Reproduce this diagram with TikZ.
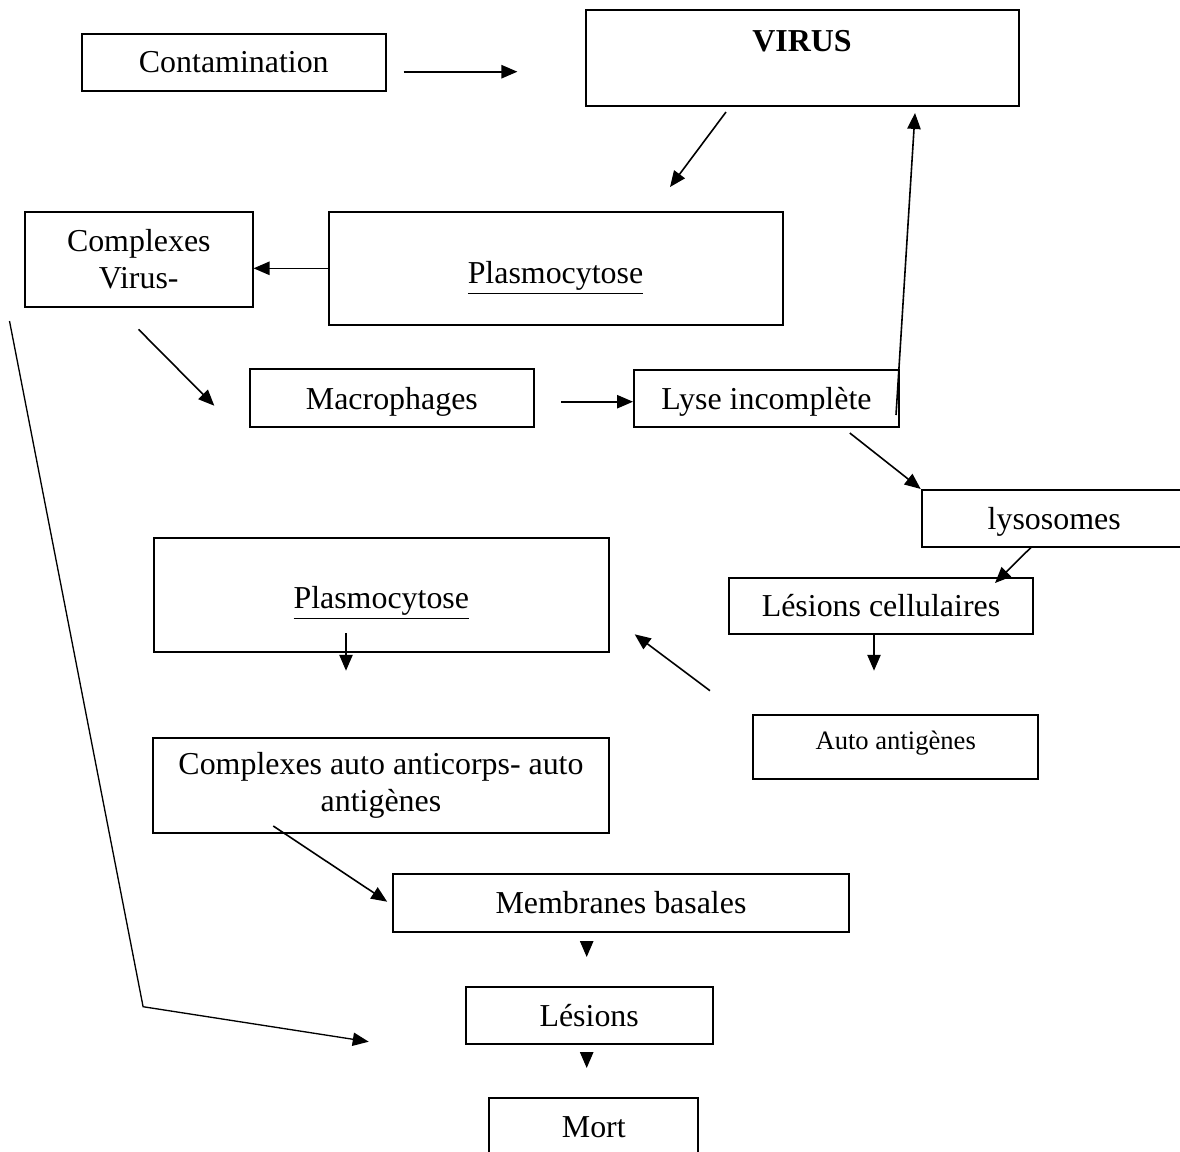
\documentclass[tikz,border=0pt]{standalone}
\usepackage{fontspec}
\setmainfont{Liberation Serif}
\usetikzlibrary{arrows.meta}
\newcommand{\pxu}{0.376pt}
\begin{document}
\begin{tikzpicture}
  [x=0.376pt,y=-0.376pt,
   box/.style={draw,rectangle,line width=0.75pt,inner sep=0pt,align=center,font=\fontsize{12pt}{13.8pt}\selectfont},
   arr/.style={-{Triangle[length=6pt,width=5pt]},line width=0.6pt}]
  \useasboundingbox (0,0) rectangle (1180,1151);

  \node[box,minimum width=304.5*\pxu,minimum height=57.5*\pxu] (cont) at (233.8,62.3) {Contamination};
  \node[box,minimum width=433*\pxu,minimum height=96*\pxu,text height=8pt,text depth=12.8pt] (virus) at (802,58) {\textbf{VIRUS}};
  \node[box,minimum width=227.5*\pxu,minimum height=95*\pxu] (cvir) at (138.8,259) {Complexes\\Virus-};
  \node[box,minimum width=454*\pxu,minimum height=113.5*\pxu,text height=12pt,text depth=0.9pt] (plasA) at (555.5,268.3) {\underline{Plasmocytose}};
  \node[box,minimum width=284.7*\pxu,minimum height=58*\pxu,text depth=0pt] (macro) at (391.9,398.3) {Macrophages};
  \node[box,minimum width=265*\pxu,minimum height=56.7*\pxu,text depth=0pt] (lyse) at (766.5,398.3) {Lyse incomplète};
  \node[box,minimum width=265*\pxu,minimum height=56.7*\pxu,text depth=0pt] (lyso) at (1054.2,518.3) {lysosomes};
  \node[box,minimum width=303.4*\pxu,minimum height=56.7*\pxu] (lcel) at (881,606) {Lésions cellulaires};
  \node[box,minimum width=454.9*\pxu,minimum height=114*\pxu,text height=11pt,text depth=0.8pt] (plasB) at (381.3,594.7) {\underline{Plasmocytose}};
  \node[box,minimum width=284.6*\pxu,minimum height=64*\pxu,text height=7pt,text depth=5.3pt,font=\fontsize{10pt}{12pt}\selectfont] (aag) at (895.7,747) {Auto antigènes};
  \node[box,minimum width=455.7*\pxu,minimum height=95.6*\pxu] (caa) at (381,785.5) {Complexes auto anticorps- auto\\antigènes};
  \node[box,minimum width=456.2*\pxu,minimum height=57.4*\pxu] (memb) at (621,903) {Membranes basales};
  \node[box,minimum width=247*\pxu,minimum height=57.3*\pxu] (les) at (589.2,1015.3) {Lésions};
  \node[box,minimum width=209.3*\pxu,minimum height=59*\pxu] (mort) at (593.8,1127.5) {Mort};

  \coordinate (s1) at (403.7,71.7);  \coordinate (t1) at (517.4,71.7);
  \coordinate (s2) at (726,112);     \coordinate (t2) at (670,187);
  \coordinate (s4) at (138.5,329.3); \coordinate (t4) at (214.3,405.7);
  \coordinate (s5) at (561,401.7);
  \coordinate (s6) at (896,415);     \coordinate (t6) at (915,113);
  \coordinate (s7) at (849.8,433);
  \coordinate (s8) at (1031.7,546.7); \coordinate (t8) at (995,583);
  \coordinate (s9) at (874,633);     \coordinate (t9) at (874,670.7);
  \coordinate (s10) at (710,690.7);  \coordinate (t10) at (634.7,634.3);
  \coordinate (s11) at (346,633);    \coordinate (t11) at (346,670.7);
  \coordinate (s12) at (273.3,826);  \coordinate (t12) at (387.2,901.7);
  \coordinate (s13) at (586.7,942);  \coordinate (t13) at (586.7,957);
  \coordinate (s14) at (586.7,1054); \coordinate (t14) at (586.7,1068);
  \coordinate (k1) at (9.5,321);
  \coordinate (k2) at (143.1,1006.7);
  \coordinate (k3) at (368.7,1041.7);

  \foreach \from/\to in {s1/t1,s2/t2,s4/t4,s6/t6,s8/t8,s9/t9,s10/t10,s11/t11,s12/t12,s13/t13,s14/t14}
    \draw[arr] (\from) -- (\to);
  \draw[arr] (plasA.west) -- (plasA.west -| cvir.east);
  \draw[arr] (s5) -- (s5 -| lyse.west);
  \draw[arr] (s7) -- (lyso.north west);
  \draw[arr,line width=0.5pt] (k1) -- (k2) -- (k3);

\end{tikzpicture}
\end{document}
